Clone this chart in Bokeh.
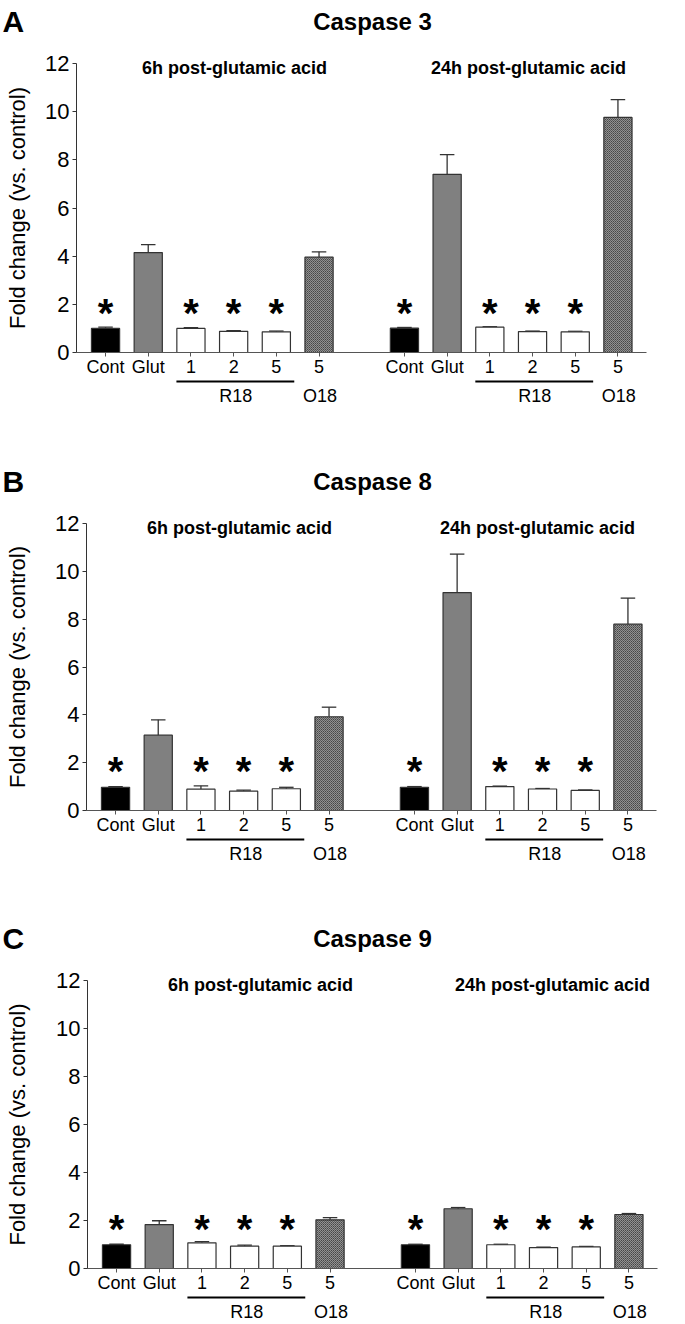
import math
from bokeh.plotting import figure
from bokeh.layouts import column
from bokeh.models import Range1d, FixedTicker, LinearAxis
from bokeh.core.properties import value
from bokeh.embed import file_html
from bokeh.resources import INLINE

FONT = "Liberation Sans"

# ---------------- data ----------------
categories = ["Cont", "Glut", "1", "2", "5", "5"]
group_titles = ["6h post-glutamic acid", "24h post-glutamic acid"]
drug_labels = ["R18", "O18"]
y_label = "Fold change (vs. control)"
y_ticks = [0, 2, 4, 6, 8, 10, 12]
significant = [True, False, True, True, True, False]

casp3_6h_mean = [1.00, 4.15, 1.00, 0.88, 0.86, 3.96]
casp3_6h_err = [0.05, 0.33, 0.03, 0.03, 0.03, 0.22]
casp3_24h_mean = [1.01, 7.40, 1.05, 0.87, 0.86, 9.76]
casp3_24h_err = [0.03, 0.82, 0.02, 0.02, 0.02, 0.74]

casp8_6h_mean = [0.97, 3.15, 0.89, 0.81, 0.91, 3.92]
casp8_6h_err = [0.03, 0.64, 0.14, 0.04, 0.06, 0.40]
casp8_24h_mean = [0.97, 9.11, 1.00, 0.90, 0.84, 7.79]
casp8_24h_err = [0.03, 1.61, 0.02, 0.02, 0.02, 1.09]

casp9_6h_mean = [0.99, 1.83, 1.07, 0.93, 0.93, 2.03]
casp9_6h_err = [0.02, 0.16, 0.05, 0.04, 0.02, 0.09]
casp9_24h_mean = [0.99, 2.49, 0.99, 0.87, 0.90, 2.25]
casp9_24h_err = [0.02, 0.05, 0.02, 0.02, 0.02, 0.04]

panels = [
    ("A", "Caspase 3", casp3_6h_mean, casp3_6h_err, casp3_24h_mean, casp3_24h_err),
    ("B", "Caspase 8", casp8_6h_mean, casp8_6h_err, casp8_24h_mean, casp8_24h_err),
    ("C", "Caspase 9", casp9_6h_mean, casp9_6h_err, casp9_24h_mean, casp9_24h_err),
]

# ---------------- layout (picture pixels) ----------------
# fig_top: picture y of the figure top; axis_x: picture x of the y axis;
# y12 / y0: picture y of the values 12 and 0.
layouts = [
    dict(fig_top=0, height=462, axis_x=76, y12=63, y0=352, title_x=372, sub_x=(234, 528)),
    dict(fig_top=462, height=457, axis_x=86, y12=523, y0=810, title_x=372, sub_x=(239, 537)),
    dict(fig_top=919, height=403, axis_x=87, y12=980, y0=1268, title_x=372, sub_x=(260, 552)),
]
PAGE_LEFT = 0
FIG_W = 669
PPX = 42.7          # pixels per category step
X0, X1 = -0.68, 12.67
BAR_W = 0.66
CAP = 0.17
GROUP_OFFSETS = [0, 7]

FILL = ["#000000", "#808080", "#ffffff", "#ffffff", "#ffffff", "#929292"]
HATCH = [" ", " ", " ", " ", " ", "x"]
EDGE = "#333333"


def make_panel(letter, title, m6, e6, m24, e24, lay):
    ppu = (lay["y0"] - lay["y12"]) / 12.0

    def xd(px):
        return X0 + (px - lay["axis_x"]) / PPX

    def yd(py):
        return (lay["y0"] - py) / ppu

    H = lay["height"]
    p = figure(width=FIG_W, height=H,
               x_range=Range1d(xd(PAGE_LEFT), xd(PAGE_LEFT + FIG_W)),
               y_range=Range1d(yd(lay["fig_top"] + H), yd(lay["fig_top"])),
               x_axis_type=None, y_axis_type=None,
               output_backend="svg", toolbar_location=None, tools="")
    p.min_border = 0
    p.grid.visible = False
    p.outline_line_color = None
    p.background_fill_color = "white"
    p.border_fill_color = "white"

    xs, tops, errs, fills, hatches = [], [], [], [], []
    for off, means, es in zip(GROUP_OFFSETS, (m6, m24), (e6, e24)):
        for i, (m, e) in enumerate(zip(means, es)):
            xs.append(off + i)
            tops.append(m)
            errs.append(e)
            fills.append(FILL[i])
            hatches.append(HATCH[i])

    hi = [t + e for t, e in zip(tops, errs)]
    p.segment(x0=xs, y0=tops, x1=xs, y1=hi, line_color=EDGE, line_width=1.3)
    p.segment(x0=[x - CAP for x in xs], y0=hi, x1=[x + CAP for x in xs], y1=hi,
              line_color=EDGE, line_width=1.3)
    p.vbar(x=xs, top=tops, bottom=0, width=BAR_W, fill_color=fills, line_color=EDGE,
           line_width=1.2, hatch_pattern=hatches, hatch_color="#444444", hatch_scale=2,
           hatch_weight=0.8)

    # significance stars
    sx = [off + i for off in GROUP_OFFSETS for i, s in enumerate(significant) if s]
    p.text(x=sx, y=[1.65] * len(sx), text=["*"] * len(sx), text_align="center",
           text_baseline="middle", text_font=value(FONT), text_font_style="bold",
           text_font_size="40px", text_color="black")

    # y axis fixed at the left end of the x axis
    yax = LinearAxis(fixed_location=X0, bounds=(0, 12), ticker=FixedTicker(ticks=y_ticks))
    yax.major_label_text_font = FONT
    yax.major_label_text_font_size = "22px"
    yax.major_label_text_color = "black"
    yax.major_label_standoff = 3
    yax.major_tick_in = 0
    yax.major_tick_out = 4
    yax.minor_tick_out = 0
    yax.minor_tick_in = 0
    yax.axis_line_color = EDGE
    yax.major_tick_line_color = EDGE
    p.add_layout(yax, "left")

    ticks = [off + i for off in GROUP_OFFSETS for i in range(len(categories))]
    xax = LinearAxis(fixed_location=0, bounds=(X0, X1), ticker=FixedTicker(ticks=ticks))
    xax.major_label_overrides = {t: categories[j % len(categories)] for j, t in enumerate(ticks)}
    xax.major_label_text_font = FONT
    xax.major_label_text_font_size = "18px"
    xax.major_label_text_color = "black"
    xax.major_label_standoff = 0
    xax.major_tick_in = 0
    xax.major_tick_out = 4
    xax.minor_tick_out = 0
    xax.minor_tick_in = 0
    xax.axis_line_color = "#555555"
    xax.major_tick_line_color = "#555555"
    p.add_layout(xax, "below")

    # y-axis title
    p.text(x=[xd(17)], y=[6], text=[y_label], angle=math.pi / 2, text_align="center",
           text_baseline="middle", text_font=value(FONT), text_font_size="22px",
           text_color="black")

    # drug brackets and labels under the axis
    line_y = yd(lay["y0"] + 29)
    lab_y = yd(lay["y0"] + 43)
    p.segment(x0=[off + 1.66 for off in GROUP_OFFSETS], y0=[line_y] * 2,
              x1=[off + 4.42 for off in GROUP_OFFSETS], y1=[line_y] * 2,
              line_color="black", line_width=2)
    lx, lt = [], []
    for off in GROUP_OFFSETS:
        lx += [off + 3.05, off + 5.02]
        lt += drug_labels
    p.text(x=lx, y=[lab_y] * len(lx), text=lt, text_align="center", text_baseline="middle",
           text_font=value(FONT), text_font_size="18px", text_color="black")

    # headings
    head_y = yd(lay["y12"] - 42)
    p.text(x=[xd(2)], y=[head_y], text=[letter], text_align="left",
           text_baseline="middle", text_font=value(FONT), text_font_style="bold",
           text_font_size="30px", text_color="black")
    p.text(x=[xd(lay["title_x"])], y=[head_y], text=[title], text_align="center",
           text_baseline="middle", text_font=value(FONT), text_font_style="bold",
           text_font_size="24px", text_color="black")
    sub_y = yd(lay["y12"] + 4)
    p.text(x=[xd(v) for v in lay["sub_x"]], y=[sub_y] * 2, text=group_titles,
           text_align="center", text_baseline="middle", text_font=value(FONT),
           text_font_style="bold", text_font_size="18px", text_color="black")
    return p


figs = [make_panel(*pan, lay) for pan, lay in zip(panels, layouts)]
page = column(*figs, spacing=0)
open("out.html", "w").write(file_html(page, INLINE))
